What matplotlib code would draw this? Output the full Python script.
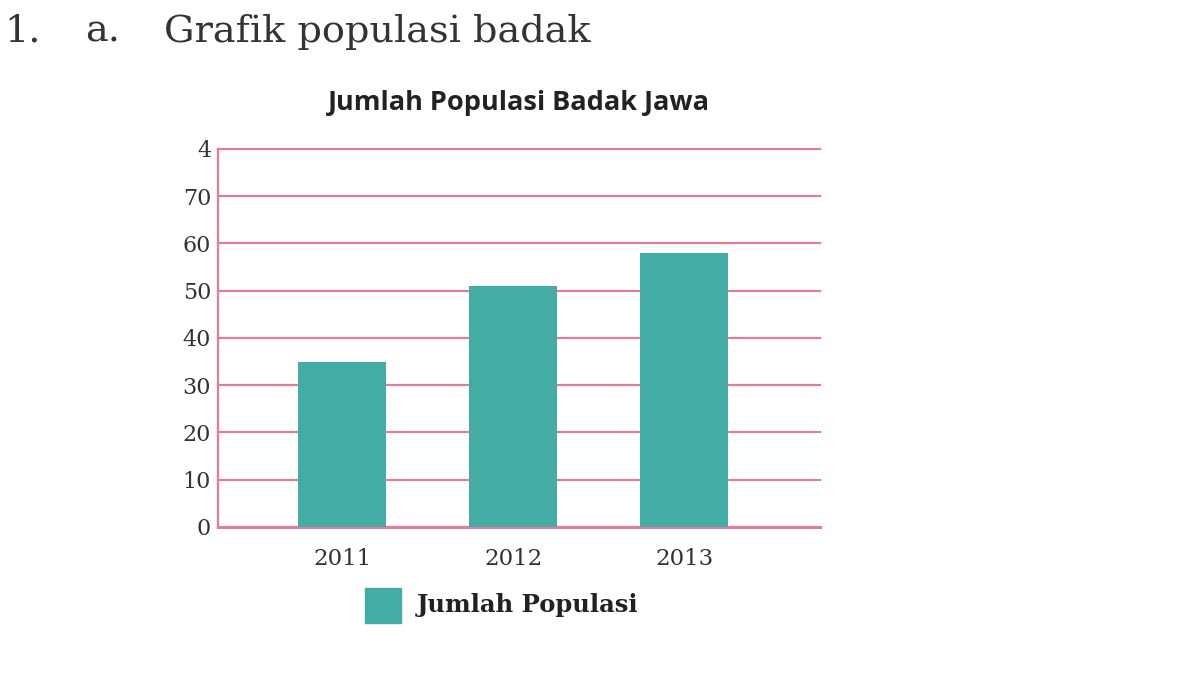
import matplotlib.pyplot as plt
from matplotlib.patches import Rectangle

years = ["2011", "2012", "2013"]
populasi = [35, 51, 58]
y_ticks = [0, 10, 20, 30, 40, 50, 60, 70, 80]
y_labels = ["0", "10", "20", "30", "40", "50", "60", "70", "4"]

teal = "#43ADA5"
pink = "#DD7F98"
serif = ["DejaVu Serif"]

fig = plt.figure(figsize=(12, 6.75), dpi=100)
fig.patch.set_facecolor("white")

# heading above the chart
fig.text(0.004, 0.953, "1.", fontsize=27.5, family=serif, color="#333333", va="center")
fig.text(0.071, 0.953, "a.", fontsize=27.5, family=serif, color="#333333", va="center")
fig.text(0.137, 0.953, "Grafik populasi badak", fontsize=27.5, family=serif,
         color="#333333", va="center")

ax = fig.add_axes([0.1817, 0.2193, 0.5017, 0.56])
x = list(range(len(years)))
ax.bar(x, populasi, width=0.515, color=teal, zorder=3)
ax.set_xlim(-0.725, 2.795)
ax.set_ylim(0, 80)
ax.set_yticks(y_ticks)
ax.set_yticklabels(y_labels, fontsize=16, family=serif, color="#333333")
ax.set_xticks(x)
ax.set_xticklabels(years, fontsize=16.5, family=serif, color="#333333")
ax.tick_params(length=0, pad=5)
ax.tick_params(axis="x", pad=15)
ax.grid(axis="y", color=pink, linewidth=1.6, zorder=1)
for gl in ax.get_ygridlines():
    gl.set_clip_on(False)
for s in ["top", "right"]:
    ax.spines[s].set_visible(False)
ax.spines["left"].set_color(pink)
ax.spines["left"].set_linewidth(1.6)
ax.spines["bottom"].set_color(pink)
ax.spines["bottom"].set_linewidth(2.2)
ax.set_title("Jumlah Populasi Badak Jawa", fontsize=19.5, fontweight="bold",
             family=["Open Sans", "DejaVu Sans"], color="#222222", pad=28)

# legend drawn by hand
fig.patches.append(Rectangle((365 / 1200, 1 - 623 / 675), 36 / 1200, 35 / 675,
                             transform=fig.transFigure, color=teal))
fig.text(417 / 1200, 1 - 605 / 675, "Jumlah Populasi", fontsize=17.5, fontweight="bold",
         family=serif, color="#222222", va="center")

fig.savefig("out.png", dpi=100)
